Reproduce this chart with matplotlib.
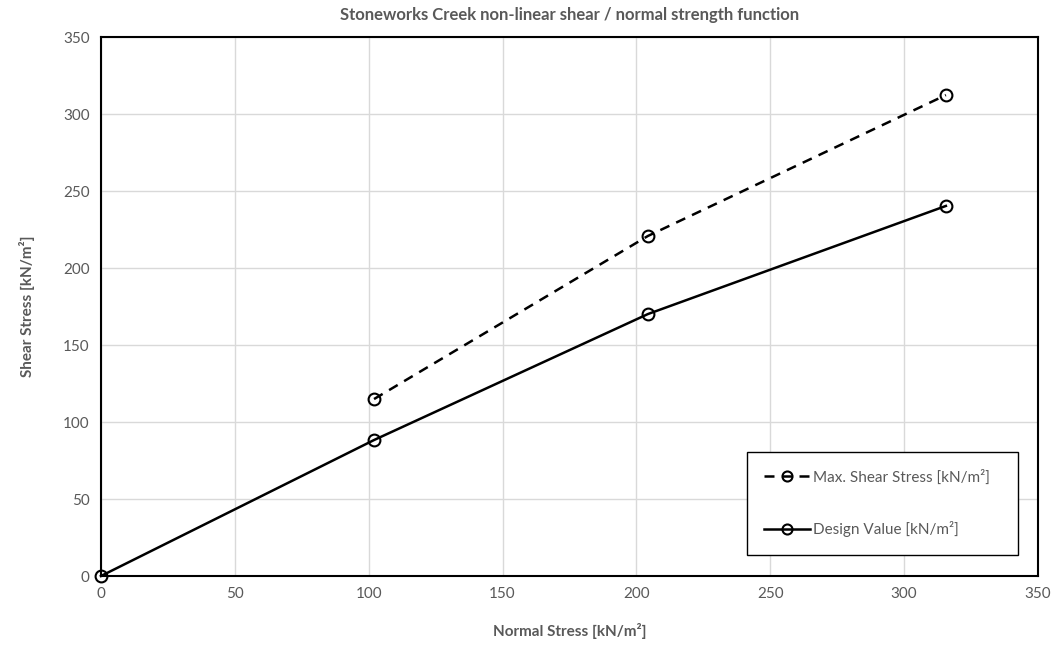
import matplotlib.pyplot as plt

normal_design = [0, 102, 204.3, 315.6]
shear_design = [0, 88.3, 170.1, 240.3]
normal_max = [102, 204.3, 315.6]
shear_max = [114.9, 220.8, 312.3]

grey = '#595959'
plt.rcParams['font.family'] = ['Lato', 'DejaVu Sans']

fig = plt.figure(figsize=(10.54, 6.48), dpi=100)
ax = fig.add_axes([0.0958, 0.1111, 0.8890, 0.8318])

ax.plot(normal_max, shear_max, color='black', lw=1.8, ls=(0, (4, 3)),
        marker='o', ms=8.5, mfc='none', mew=1.5, clip_on=False,
        label='Max. Shear Stress [kN/m²]')
ax.plot(normal_design, shear_design, color='black', lw=1.8,
        marker='o', ms=8.5, mfc='none', mew=1.5, clip_on=False,
        label='Design Value [kN/m²]')

ax.set_xlim(0, 350)
ax.set_ylim(0, 350)
ax.set_xticks(range(0, 351, 50))
ax.set_yticks(range(0, 351, 50))
ax.grid(True, color='#d9d9d9', lw=1)
ax.set_axisbelow(True)
for s in ax.spines.values():
    s.set_color('black')
    s.set_linewidth(1.5)
ax.tick_params(length=0, labelsize=11, labelcolor=grey, pad=8)

ax.set_title('Stoneworks Creek non-linear shear / normal strength function',
             fontsize=12, fontweight='bold', color=grey, pad=12)
ax.set_xlabel('Normal Stress [kN/m²]', fontsize=11, fontweight='bold', color=grey, labelpad=16)
ax.set_ylabel('Shear Stress [kN/m²]', fontsize=11, fontweight='bold', color=grey, labelpad=20)

leg = ax.legend(loc='lower left', bbox_to_anchor=(0.689, 0.039, 0.29, 0.199),
                mode='expand', borderaxespad=0, fancybox=False, edgecolor='black',
                framealpha=1, fontsize=11, labelspacing=2.4, handlelength=3,
                handletextpad=0.2, borderpad=1.15, markerscale=0.85)
leg.get_frame().set_linewidth(1)
for t in leg.get_texts():
    t.set_color(grey)

fig.savefig('out.png', dpi=100)
